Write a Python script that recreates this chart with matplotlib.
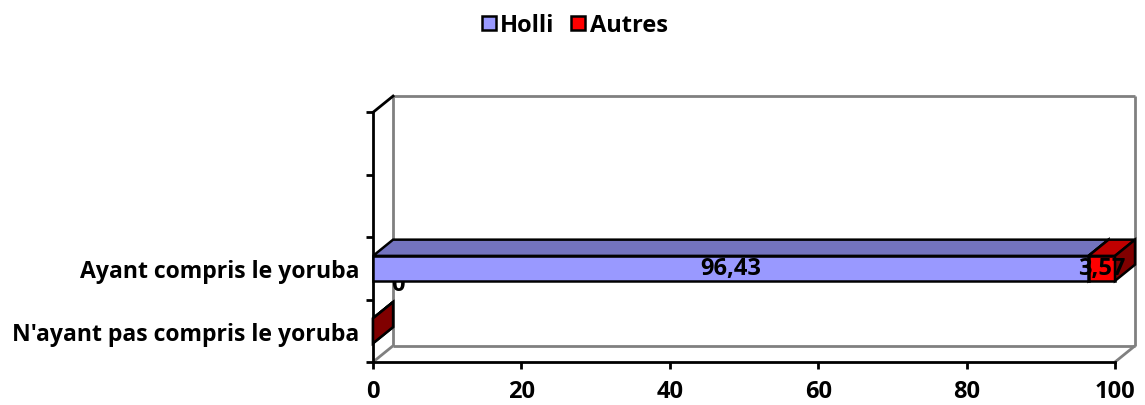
import matplotlib

matplotlib.use("Agg")
import matplotlib.pyplot as plt
from matplotlib.patches import Polygon
from matplotlib.lines import Line2D

# data
categories = ["N'ayant pas compris le yoruba", "Ayant compris le yoruba", "", ""]
series = ["Holli", "Autres"]
holli = [0, 96.43]
autres = [0, 3.57]
xticks = [0, 20, 40, 60, 80, 100]

FRONT = {"Holli": "#9999FF", "Autres": "#FF0000"}
TOP = {"Holli": "#7373BF", "Autres": "#C00000"}
SIDE = {"Holli": "#4D4D80", "Autres": "#800000"}
WALL = "#808080"
FONT = "Open Sans"
FS = 17
CAT_FS = 16.6

DX, DY = 2.7, 0.26      # 3D depth offset in data units
BH = 0.40               # bar thickness

fig = plt.figure(figsize=(11.45, 4.06), dpi=100, facecolor="white")
ax = fig.add_axes([0.3258, 0.1059, 0.6655, 0.655])
ax.set_xlim(0, 100 + DX)
ax.set_ylim(-0.5, len(categories) - 0.5 + DY)
ax.patch.set_alpha(0)

# walls / floor
y0, y1 = -0.5, len(categories) - 0.5
wall_lines = [
    ([DX, DX], [y0 + DY, y1 + DY]),
    ([DX, 100 + DX], [y1 + DY, y1 + DY]),
    ([100 + DX, 100 + DX], [y1 + DY, y0 + DY]),
    ([DX, 100 + DX], [y0 + DY, y0 + DY]),
    ([0, DX], [y0, y0 + DY]),
    ([100, 100 + DX], [y0, y0 + DY]),
]
for xs, ys in wall_lines:
    ax.plot(xs, ys, color=WALL, lw=2, clip_on=False, zorder=1, solid_capstyle="butt")
ax.plot([0, DX], [y1, y1 + DY], color="black", lw=2, clip_on=False, zorder=1)


def box(x0, w, yc, name):
    yb, yt = yc - BH / 2, yc + BH / 2
    faces = [
        ([(x0, yb), (x0 + w, yb), (x0 + w, yt), (x0, yt)], FRONT[name]),
        ([(x0, yt), (x0 + w, yt), (x0 + w + DX, yt + DY), (x0 + DX, yt + DY)], TOP[name]),
        ([(x0 + w, yb), (x0 + w + DX, yb + DY), (x0 + w + DX, yt + DY), (x0 + w, yt)], SIDE[name]),
    ]
    for pts, c in faces:
        ax.add_patch(Polygon(pts, closed=True, facecolor=c, edgecolor="black",
                             lw=1.8, joinstyle="miter", zorder=3, clip_on=False))


for i, (h, a) in enumerate(zip(holli, autres)):
    box(0, h, i, "Holli")
    box(h, a, i, "Autres")

# data labels
lab = dict(fontsize=FS, fontweight="bold", family=FONT, ha="center", va="center", zorder=5)
ax.text(holli[1] / 2, 1, f"{holli[1]:.2f}".replace(".", ","), **lab)
ax.text(holli[1] + autres[1] / 2, 1, f"{autres[1]:.2f}".replace(".", ","), **lab)
ax.text(DX + 0.7, 0.75, f"{holli[0]}", fontsize=FS, fontweight="bold", family=FONT,
        ha="center", va="center", zorder=2)

# axes
for s in ("top", "right"):
    ax.spines[s].set_visible(False)
ax.spines["left"].set_bounds(y0, y1)
ax.spines["bottom"].set_bounds(0, 100)
for s in ("left", "bottom"):
    ax.spines[s].set_linewidth(2)
    ax.spines[s].set_zorder(2)
ax.set_xticks(xticks)
ax.set_xticklabels([str(t) for t in xticks], fontsize=FS, fontweight="bold", family=FONT)
ax.set_yticks([y0 + k for k in range(len(categories) + 1)])
ax.set_yticklabels([])
ax.set_yticks(range(len(categories)), minor=True)
ax.set_yticklabels(categories, minor=True, fontsize=CAT_FS, fontweight="bold", family=FONT)
ax.tick_params(axis="both", which="major", length=5, width=2, direction="out")
ax.tick_params(axis="x", pad=7)
ax.tick_params(axis="y", which="minor", length=0, pad=10)

handles = [Line2D([], [], ls="none", marker="s", markersize=10.5, markerfacecolor=FRONT[s],
                  markeredgecolor="black", markeredgewidth=1.8) for s in series]
fig.legend(handles, series, loc="center", bbox_to_anchor=(0.501, 0.936), ncol=2, frameon=False,
           handletextpad=0.1, columnspacing=0.6, handlelength=0.8,
           prop={"family": FONT, "weight": "bold", "size": FS})

fig.savefig("out.png", dpi=100, facecolor="white")
